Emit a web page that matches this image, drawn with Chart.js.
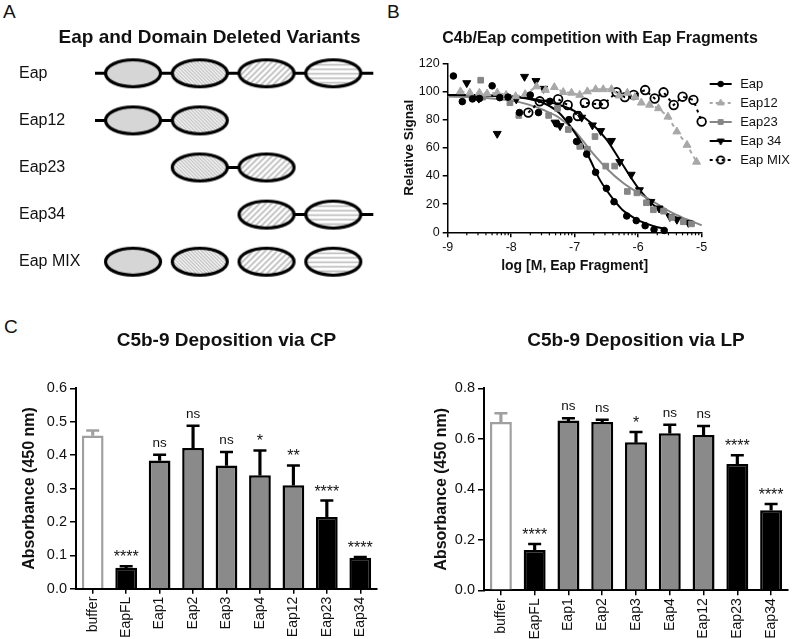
<!DOCTYPE html>
<html>
<head>
<meta charset="utf-8">
<script src="https://cdn.jsdelivr.net/npm/chart.js@4.4.0/dist/chart.umd.min.js"></script>
<style>
  body { margin: 0; background: #fff; width: 800px; height: 639px; position: relative; overflow: hidden;
         font-family: "Liberation Sans", Arial, sans-serif; }
  .panel { position: absolute; }
  .tag { position: absolute; font-size: 19px; line-height: 19px; color: #111; }
</style>
</head>
<body>
<div class="tag" style="left:3px;top:2px">A</div>
<div class="tag" style="left:387px;top:2px">B</div>
<div class="tag" style="left:4px;top:317px">C</div>

<canvas id="chartA" class="panel" style="left:0;top:0" width="400" height="300"></canvas>
<canvas id="chartB" class="panel" style="left:400px;top:0" width="400" height="300"></canvas>
<canvas id="chartCP" class="panel" style="left:0;top:300px" width="400" height="339"></canvas>
<canvas id="chartLP" class="panel" style="left:400px;top:300px" width="400" height="339"></canvas>

<script>
// ---- panel A: domain layout of each construct
const variants = ['Eap', 'Eap12', 'Eap23', 'Eap34', 'Eap MIX'];
const variantDomains = [[1, 2, 3, 4], [1, 2], [2, 3], [3, 4], [1, 2, 3, 4]];
const variantLinker = [[0.43, 4.6], [0.43, 2], [2, 3], [3, 4.6], null];

// ---- panel B: competition curves (log M vs relative signal)
const eapX = [-8.91, -8.77, -8.61, -8.5, -8.3, -8.18, -8.05, -7.87, -7.7, -7.57, -7.39, -7.28, -7.09, -6.97, -6.81, -6.67, -6.5, -6.38, -6.18, -6.03, -5.89, -5.75, -5.59];
const eapY = [111, 92.8, 94.7, 95, 104, 95.6, 96, 85, 97.5, 85, 93, 77, 80, 64.5, 55.5, 42.6, 31.2, 21.7, 11.6, 8.3, 4.7, 2, 1.3];
const eap12X = [-8.8, -8.65, -8.5, -8.38, -8.22, -8.08, -7.93, -7.78, -7.6, -7.46, -7.32, -7.18, -7.05, -6.92, -6.8, -6.67, -6.55, -6.42, -6.3, -6.17, -6.05, -5.95, -5.82, -5.68, -5.53, -5.39, -5.23, -5.08];
const eap12Y = [100, 99, 99, 98.5, 99, 97.5, 96.5, 98, 103.5, 101, 103, 99.5, 99, 97.5, 100, 101.5, 101.5, 101.5, 97, 99, 96, 92, 90.5, 88, 82, 71.5, 62, 50];
const eap23X = [-8.48, -8.45, -8.02, -7.88, -7.41, -7.27, -7.1, -6.92, -6.8, -6.68, -6.51, -6.37, -6.17, -6.02, -5.87, -5.76, -5.6, -5.47, -5.29, -5.16];
const eap23Y = [108, 96, 92, 83, 83, 88, 73, 61, 59, 68, 47, 47, 29, 28, 21, 16, 15, 10.5, 7.5, 6];
const eap34X = [-8.7, -8.51, -8.22, -7.92, -7.79, -7.61, -7.49, -7.31, -7.23, -6.89, -6.72, -6.59, -6.42, -6.29, -6.11, -5.98, -5.8, -5.67, -5.5, -5.39, -5.21];
const eap34Y = [106, 95, 70, 94.5, 110.5, 107.5, 102, 78, 75.5, 81.5, 76, 72, 65, 50, 41, 30, 21.7, 17, 11, 9, 6.8];
const mixX = [-7.73, -7.55, -7.26, -7.11, -6.95, -6.84, -6.65, -6.54, -6.34, -6.21, -6.07, -5.89, -5.74, -5.6, -5.44, -5.3, -5.13, -5.0];
const mixY = [85, 93, 94.5, 90.4, 82.6, 92, 91, 91, 99.5, 96, 97.5, 101, 95, 99.4, 90.4, 96.3, 94, 78.6];

// fitted curves
const eapFitX = [-9, -8.5, -8, -7.75, -7.5, -7.25, -7, -6.875, -6.75, -6.625, -6.5, -6.375, -6.25, -6.125, -6, -5.875, -5.75, -5.55];
const eapFitY = [97.5, 97.3, 96.5, 95, 92, 85, 71, 62, 51, 39, 30, 22.5, 16, 12, 8.5, 6.3, 4.3, 2.3];
const eap23FitX = [-9, -8.5, -8, -7.75, -7.5, -7.25, -7, -6.75, -6.5, -6.25, -6, -5.75, -5.5, -5.25, -5];
const eap23FitY = [96.5, 95.8, 93.5, 91, 87, 81.5, 72, 58, 45.5, 35.5, 28, 21.5, 14.6, 9.5, 5];
const eap34FitX = [-9, -8.5, -8, -7.5, -7.25, -7, -6.75, -6.5, -6.25, -6, -5.75, -5.5, -5.18];
const eap34FitY = [97.5, 97.3, 96.5, 93.5, 90.5, 86, 78, 66, 48.5, 31.5, 19, 12.3, 7.5];

const minorMultiples = [2, 3, 4, 5, 6, 7, 8, 9];

// ---- panel C: C5b-9 deposition
const barLabels = ['buffer', 'EapFL', 'Eap1', 'Eap2', 'Eap3', 'Eap4', 'Eap12', 'Eap23', 'Eap34'];
const cpMean = [0.459, 0.063, 0.384, 0.421, 0.369, 0.340, 0.310, 0.215, 0.093];
const cpErr = [0.015, 0.004, 0.017, 0.067, 0.040, 0.074, 0.059, 0.049, 0.002];
const cpMarks = ['', '****', 'ns', 'ns', 'ns', '*', '**', '****', '****'];
const lpMean = [0.667, 0.160, 0.672, 0.667, 0.586, 0.622, 0.615, 0.500, 0.317];
const lpErr = [0.034, 0.023, 0.009, 0.008, 0.041, 0.034, 0.036, 0.035, 0.025];
const lpMarks = ['', '****', 'ns', 'ns', '*', 'ns', 'ns', '****', '****'];
const barFill = ['#ffffff', '#000000', '#8a8a8a', '#8a8a8a', '#8a8a8a', '#8a8a8a', '#8a8a8a', '#000000', '#000000'];
const barEdge = ['#a0a0a0', '#000000', '#000000', '#000000', '#000000', '#000000', '#000000', '#000000', '#000000'];


Chart.defaults.font.family = '"Liberation Sans", Arial, sans-serif';
Chart.defaults.color = '#111';
Chart.defaults.animation = false;
Chart.defaults.layout.autoPadding = false;
Chart.defaults.plugins.tooltip.enabled = false;
Chart.defaults.plugins.legend.display = false;


// ellipse glyph with the fill pattern of each domain
function domainImage(kind) {
    const c = document.createElement('canvas');
    c.width = 60; c.height = 32;
    const g = c.getContext('2d');
    g.save();
    g.beginPath();
    g.ellipse(30, 16, 27.5, 13.5, 0, 0, Math.PI * 2);
    g.fillStyle = '#fff';
    g.fill();
    g.clip();
    g.strokeStyle = '#b8b8b8';
    if (kind === 1) {
        g.fillStyle = '#d6d6d6';
        g.fillRect(0, 0, 60, 32);
    } else if (kind === 2) {
        g.lineWidth = 1.2;
        for (let i = -40; i < 70; i += 3.5) { g.beginPath(); g.moveTo(i, 0); g.lineTo(i + 32, 32); g.stroke(); }
    } else if (kind === 3) {
        g.lineWidth = 1.6;
        for (let i = -40; i < 70; i += 6) { g.beginPath(); g.moveTo(i, 32); g.lineTo(i + 32, 0); g.stroke(); }
    } else {
        g.lineWidth = 1.6;
        for (let y = 3; y < 32; y += 4.5) { g.beginPath(); g.moveTo(0, y); g.lineTo(60, y); g.stroke(); }
    }
    g.restore();
    g.beginPath();
    g.ellipse(30, 16, 27.5, 13.5, 0, 0, Math.PI * 2);
    g.lineWidth = 3.2;
    g.strokeStyle = '#000';
    g.stroke();
    return c;
}

const domainSets = [1, 2, 3, 4].map(k => ({
    data: variants.flatMap((v, r) => variantDomains[r].includes(k) ? [{ x: k, y: v }] : []),
    showLine: false,
    pointStyle: domainImage(k),
    pointRadius: 15,
    order: 0
}));
const linkerSets = variants.flatMap((v, r) => variantLinker[r] ? [{
    data: variantLinker[r].map(x => ({ x, y: v })),
    borderColor: '#000',
    borderWidth: 3,
    pointRadius: 0,
    order: 1
}] : []);

new Chart(document.getElementById('chartA'), {
    type: 'line',
    data: { datasets: [...domainSets, ...linkerSets] },
    options: {
        responsive: false,
        layout: { padding: { left: 19, bottom: 14.75 } },
        plugins: {
            title: {
                display: true, text: 'Eap and Domain Deleted Variants',
                font: { size: 19, weight: 'bold' }, color: '#111',
                padding: { top: 26.6, bottom: 0.35 }
            }
        },
        scales: {
            x: { type: 'linear', min: 0.265, max: 5.0, display: false },
            y: {
                type: 'category', labels: variants, offset: true,
                grid: { display: false }, border: { display: false },
                ticks: { crossAlign: 'far', padding: 0, font: { size: 16 }, color: '#111' },
                afterFit: s => { s.width = 65; }
            }
        }
    }
});


// ---- panel B
const xy = (xs, ys) => xs.map((x, i) => ({ x, y: ys[i] }));

const fitSet = (xs, ys, color) => ({
    data: xy(xs, ys), showLine: true, borderColor: color, borderWidth: 2,
    pointRadius: 0, cubicInterpolationMode: 'monotone', order: 1, clip: false
});

const seriesB = [
    { label: 'Eap', data: xy(eapX, eapY), pointStyle: 'circle', pointRadius: 3.3,
      pointBackgroundColor: '#000', pointBorderColor: '#000', pointBorderWidth: 1,
      legendLine: { color: '#000', dash: [] } },
    { label: 'Eap12', data: xy(eap12X, eap12Y), pointStyle: 'triangle', pointRadius: 4.6,
      pointBackgroundColor: '#a8a8a8', pointBorderColor: '#a8a8a8', pointBorderWidth: 1,
      showLine: true, borderColor: '#a8a8a8', borderWidth: 2, borderDash: [4, 4],
      legendLine: { color: '#a8a8a8', dash: [3, 3] } },
    { label: 'Eap23', data: xy(eap23X, eap23Y), pointStyle: 'rect', pointRadius: 4,
      pointBackgroundColor: '#868686', pointBorderColor: '#868686', pointBorderWidth: 1,
      legendLine: { color: '#868686', dash: [] } },
    { label: 'Eap 34', data: xy(eap34X, eap34Y), pointStyle: 'triangle', pointRotation: 180, pointRadius: 4.6,
      pointBackgroundColor: '#000', pointBorderColor: '#000', pointBorderWidth: 1,
      legendLine: { color: '#000', dash: [] } },
    { label: 'Eap MIX', data: xy(mixX, mixY), pointStyle: 'circle', pointRadius: 4.3,
      pointBackgroundColor: 'rgba(0,0,0,0)', pointBorderColor: '#000', pointBorderWidth: 1.8,
      showLine: true, borderColor: '#000', borderWidth: 2, borderDash: [3, 4],
      legendLine: { color: '#000', dash: [3, 3] } }
].map(d => Object.assign({ showLine: false, order: 0, clip: false }, d));

function legendImage(ds) {
    const c = document.createElement('canvas');
    c.width = 26; c.height = 12;
    const g = c.getContext('2d');
    g.strokeStyle = ds.legendLine.color;
    g.lineWidth = 2;
    g.setLineDash(ds.legendLine.dash);
    g.beginPath(); g.moveTo(2, 6); g.lineTo(24, 6); g.stroke();
    g.setLineDash([]);
    g.fillStyle = ds.pointBackgroundColor;
    g.strokeStyle = ds.pointBorderColor;
    g.lineWidth = ds.pointBorderWidth;
    Chart.helpers.drawPoint(g, {
        pointStyle: ds.pointStyle, rotation: ds.pointRotation || 0,
        radius: ds.pointRadius * 0.85, borderWidth: ds.pointBorderWidth
    }, 13, 6);
    return c;
}

const minorTicks = {
    id: 'minorTicks',
    afterDraw(chart) {
        const sx = chart.scales.x, ctx = chart.ctx;
        ctx.save();
        ctx.strokeStyle = '#000';
        ctx.lineWidth = 1.2;
        for (let d = -9; d < -5; d++) {
            minorMultiples.forEach(m => {
                const px = sx.getPixelForValue(d + Math.log10(m));
                ctx.beginPath(); ctx.moveTo(px, sx.top); ctx.lineTo(px, sx.top + 3); ctx.stroke();
            });
        }
        ctx.restore();
    }
};

new Chart(document.getElementById('chartB'), {
    type: 'scatter',
    data: {
        datasets: [
            ...seriesB,
            fitSet(eapFitX, eapFitY, '#000'),
            fitSet(eap23FitX, eap23FitY, '#868686'),
            fitSet(eap34FitX, eap34FitY, '#000')
        ]
    },
    options: {
        responsive: false,
        layout: { padding: { bottom: 21.5 } },
        plugins: {
            title: {
                display: true, text: 'C4b/Eap competition with Eap Fragments',
                font: { size: 16, weight: 'bold' }, color: '#111',
                padding: { top: 29.4, bottom: 14.7 }
            },
            legend: {
                display: true, position: 'right', align: 'start', fullSize: false,
                title: { display: true, text: ' ', font: { size: 1 }, padding: { top: 4, bottom: 3 } },
                labels: {
                    usePointStyle: true, pointStyleWidth: 26, padding: 6,
                    font: { size: 13 }, color: '#111',
                    generateLabels: () => seriesB.map((ds, i) => ({
                        text: ds.label, pointStyle: legendImage(ds), datasetIndex: i,
                        lineWidth: 0, fillStyle: 'transparent', strokeStyle: 'transparent', hidden: false
                    }))
                }
            }
        },
        scales: {
            x: {
                type: 'linear', min: -9, max: -5,
                ticks: { stepSize: 1, font: { size: 12.5 }, color: '#111', padding: 3 },
                grid: { drawOnChartArea: false, tickLength: 5, color: '#000', lineWidth: 1.5 },
                border: { color: '#000', width: 1.5 },
                title: { display: true, text: 'log [M, Eap Fragment]', font: { size: 14, weight: 'bold' }, color: '#111', padding: { top: 2, bottom: 4 } },
                afterFit: s => { s.height = 46.2; }
            },
            y: {
                min: 0, max: 120,
                ticks: { stepSize: 20, font: { size: 12.5 }, color: '#111', padding: 3 },
                grid: { drawOnChartArea: false, tickLength: 5, color: '#000', lineWidth: 1.5 },
                border: { color: '#000', width: 1.5 },
                title: { display: true, text: 'Relative Signal', font: { size: 13.5, weight: 'bold' }, color: '#111', padding: { top: 1.2, bottom: 0 } },
                afterFit: s => { s.width = 47.7; }
            }
        }
    },
    plugins: [minorTicks]
});


// ---- panel C
function barChart(canvasId, title, means, errs, marks, yMax, yStep, box) {
    const tops = means.map((m, i) => m + errs[i]);
    const sigMarks = {
        id: 'sigMarks',
        afterDatasetsDraw(chart) {
            const { ctx, scales: { x, y } } = chart;
            ctx.save();
            ctx.fillStyle = '#111';
            ctx.textAlign = 'center';
            marks.forEach((m, i) => {
                if (!m) return;
                const star = m[0] === '*';
                ctx.font = (star ? '16px' : '13.5px') + ' "Liberation Sans", Arial, sans-serif';
                ctx.fillText(m, x.getPixelForValue(i), y.getPixelForValue(tops[i]) - (star ? 4 : 8));
            });
            ctx.restore();
        }
    };
    return new Chart(document.getElementById(canvasId), {
        type: 'bar',
        data: {
            labels: barLabels,
            datasets: [
                { data: means, backgroundColor: barFill, borderColor: barEdge, borderWidth: 2.5,
                  barPercentage: 0.65, categoryPercentage: 1, grouped: false, order: 2 },
                { data: means.map((m, i) => [m, tops[i]]), backgroundColor: barEdge,
                  barThickness: 2.5, grouped: false, order: 1 },
                { type: 'line', data: tops, showLine: false, pointStyle: 'line', pointRadius: 6.5,
                  pointBorderWidth: 2.5, pointBorderColor: barEdge, order: 0 }
            ]
        },
        options: {
            responsive: false,
            layout: { padding: { right: box.padRight } },
            plugins: {
                title: {
                    display: true, text: title, fullSize: false,
                    font: { size: 19, weight: 'bold' }, color: '#111',
                    padding: { top: 29.6, bottom: 35.9 }
                }
            },
            scales: {
                x: {
                    offset: true,
                    grid: { offset: false, drawOnChartArea: false, tickLength: 5, color: '#000', lineWidth: 1.5 },
                    border: { color: '#000', width: 2 },
                    ticks: { minRotation: 90, maxRotation: 90, padding: 3, font: { size: 14 }, color: '#111' },
                    afterFit: s => { s.height = box.xHeight; }
                },
                y: {
                    min: 0, max: yMax,
                    ticks: { stepSize: yStep, callback: v => v.toFixed(1), font: { size: 14.5 }, color: '#111', padding: 3 },
                    grid: { drawOnChartArea: false, tickLength: 6, color: '#000', lineWidth: 1.5 },
                    border: { color: '#000', width: 2 },
                    title: { display: true, text: 'Absorbance (450 nm)', font: { size: 16, weight: 'bold' }, color: '#111', padding: { top: box.titlePad, bottom: 0 } },
                    afterFit: s => { s.width = box.yWidth; }
                }
            }
        },
        plugins: [sigMarks]
    });
}

barChart('chartCP', 'C5b-9 Deposition via CP', cpMean, cpErr, cpMarks, 0.6, 0.1,
    { padRight: 23, xHeight: 50.3, yWidth: 76, titlePad: 20 });
barChart('chartLP', 'C5b-9 Deposition via LP', lpMean, lpErr, lpMarks, 0.8, 0.2,
    { padRight: 12, xHeight: 48.7, yWidth: 84, titlePad: 32 });
</script>
</body>
</html>
